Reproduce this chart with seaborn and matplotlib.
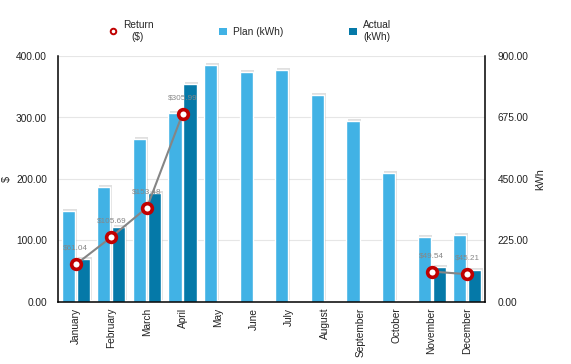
import pandas as pd
import matplotlib
matplotlib.use("Agg")
import matplotlib.pyplot as plt
import matplotlib.patheffects as pe
from matplotlib.lines import Line2D
from matplotlib.patches import Patch
import seaborn as sns
import numpy as np

# data
months = ["January", "February", "March", "April", "May", "June", "July",
          "August", "September", "October", "November", "December"]
plan_kwh = [333, 421, 596, 691, 867, 841, 849, 757, 662, 472, 238, 245]
actual_kwh = [157, 274, 399, 798, None, None, None, None, None, None, 128, 117]
return_usd = [61.04, 105.69, 153.48, 305.99, None, None, None, None, None, None, 49.54, 45.21]

PLAN_C = "#41B2E5"
ACTUAL_C = "#0579A8"
RET_C = "#C00000"

sns.set_theme(style="white")
plt.rcParams["font.family"] = ["Liberation Sans", "DejaVu Sans"]
FS = 7.3

# long table for the bars
rows = []
for m, p, a in zip(months, plan_kwh, actual_kwh):
    rows.append({"month": m, "kind": "Plan (kWh)", "kwh": p})
    if a is not None:
        rows.append({"month": m, "kind": "Actual (kWh)", "kwh": a})
df_bars = pd.DataFrame(rows)

# return line, split into segments where data is missing
seg, cur, prev = [], 0, False
for r in return_usd:
    if r is None:
        prev = False
        seg.append(np.nan)
        continue
    if not prev:
        cur += 1
    prev = True
    seg.append(cur)
df_ret = pd.DataFrame({"idx": range(len(months)), "ret": return_usd, "seg": seg}).dropna()

fig = plt.figure(figsize=(5.71, 3.64), dpi=100)
ax = fig.add_axes([58 / 571, 1 - 302 / 364, (485 - 58) / 571, (302 - 56) / 364])
ax2 = ax.twinx()

# bars on the kWh axis
shadow = [pe.SimplePatchShadow(offset=(1.2, 1.2), shadow_rgbFace="#999999", alpha=0.3), pe.Normal()]
sns.barplot(data=df_bars, x="month", y="kwh", hue="kind", order=months,
            hue_order=["Plan (kWh)", "Actual (kWh)"],
            palette={"Plan (kWh)": PLAN_C, "Actual (kWh)": ACTUAL_C},
            width=0.84, gap=0.12, saturation=1, ax=ax2, legend=False)
for b in ax2.patches:
    b.set_path_effects(shadow)

# return line on the $ axis
sns.lineplot(data=df_ret, x="idx", y="ret", units="seg", estimator=None,
             color="#858585", lw=1.5, marker="o", markersize=7,
             markerfacecolor="white", markeredgecolor=RET_C, markeredgewidth=2.6,
             ax=ax, legend=False)
for i, r in zip(df_ret["idx"], df_ret["ret"]):
    ax.annotate(f"${r:.2f}", (i, r), xytext=(0, 9), textcoords="offset points",
                ha="center", va="bottom", fontsize=5.9, color="#878787")

ax.set_zorder(ax2.get_zorder() + 1)
ax.patch.set_visible(False)

ax.set_xlim(-0.5, len(months) - 0.5)
ax.set_xticks(range(len(months)))
ax.set_xticklabels(months, rotation=90, fontsize=FS)
ax.set_xlabel("")

ax.set_ylim(0, 400)
ax.set_yticks([0, 100, 200, 300, 400])
ax.set_yticklabels([f"{v:.2f}" for v in [0, 100, 200, 300, 400]], fontsize=FS)
ax.set_ylabel("$", fontsize=FS + 0.5, labelpad=3)

ax2.set_ylim(0, 900)
ax2.set_yticks([0, 225, 450, 675, 900])
ax2.set_yticklabels([f"{v:.2f}" for v in [0, 225, 450, 675, 900]], fontsize=FS)
ax2.set_ylabel("kWh", fontsize=FS + 0.5, labelpad=5)
ax2.set_xlabel("")
ax2.grid(axis="y", color="#e6e6e6", lw=0.8)
ax2.set_axisbelow(True)

ax.tick_params(axis="both", length=0, colors="#222222")
ax.tick_params(axis="y", pad=8)
ax.tick_params(axis="x", pad=4)
ax2.tick_params(axis="y", length=0, pad=9, colors="#222222")

for a in (ax, ax2):
    for s in a.spines.values():
        s.set_visible(False)
for s in ("left", "right", "bottom"):
    ax.spines[s].set_visible(True)
    ax.spines[s].set_color("black")
    ax.spines[s].set_linewidth(1.1)

handles = [
    Line2D([], [], marker="o", ls="none", color=RET_C, markerfacecolor="white",
           markersize=4, markeredgewidth=1.4),
    Patch(facecolor=PLAN_C, edgecolor="none"),
    Patch(facecolor=ACTUAL_C, edgecolor="none"),
]
leg = fig.legend(handles, ["Return\n($)", "Plan (kWh)", "Actual\n(kWh)"],
                 loc="upper left", bbox_to_anchor=(109 / 571, 1 - 20 / 364),
                 ncol=3, frameon=False, fontsize=FS, handlelength=0.75,
                 handleheight=0.75, handletextpad=0.6, columnspacing=6.5,
                 borderpad=0, borderaxespad=0)
for t in leg.get_texts():
    t.set_multialignment("center")

fig.savefig("out.png", dpi=100)
